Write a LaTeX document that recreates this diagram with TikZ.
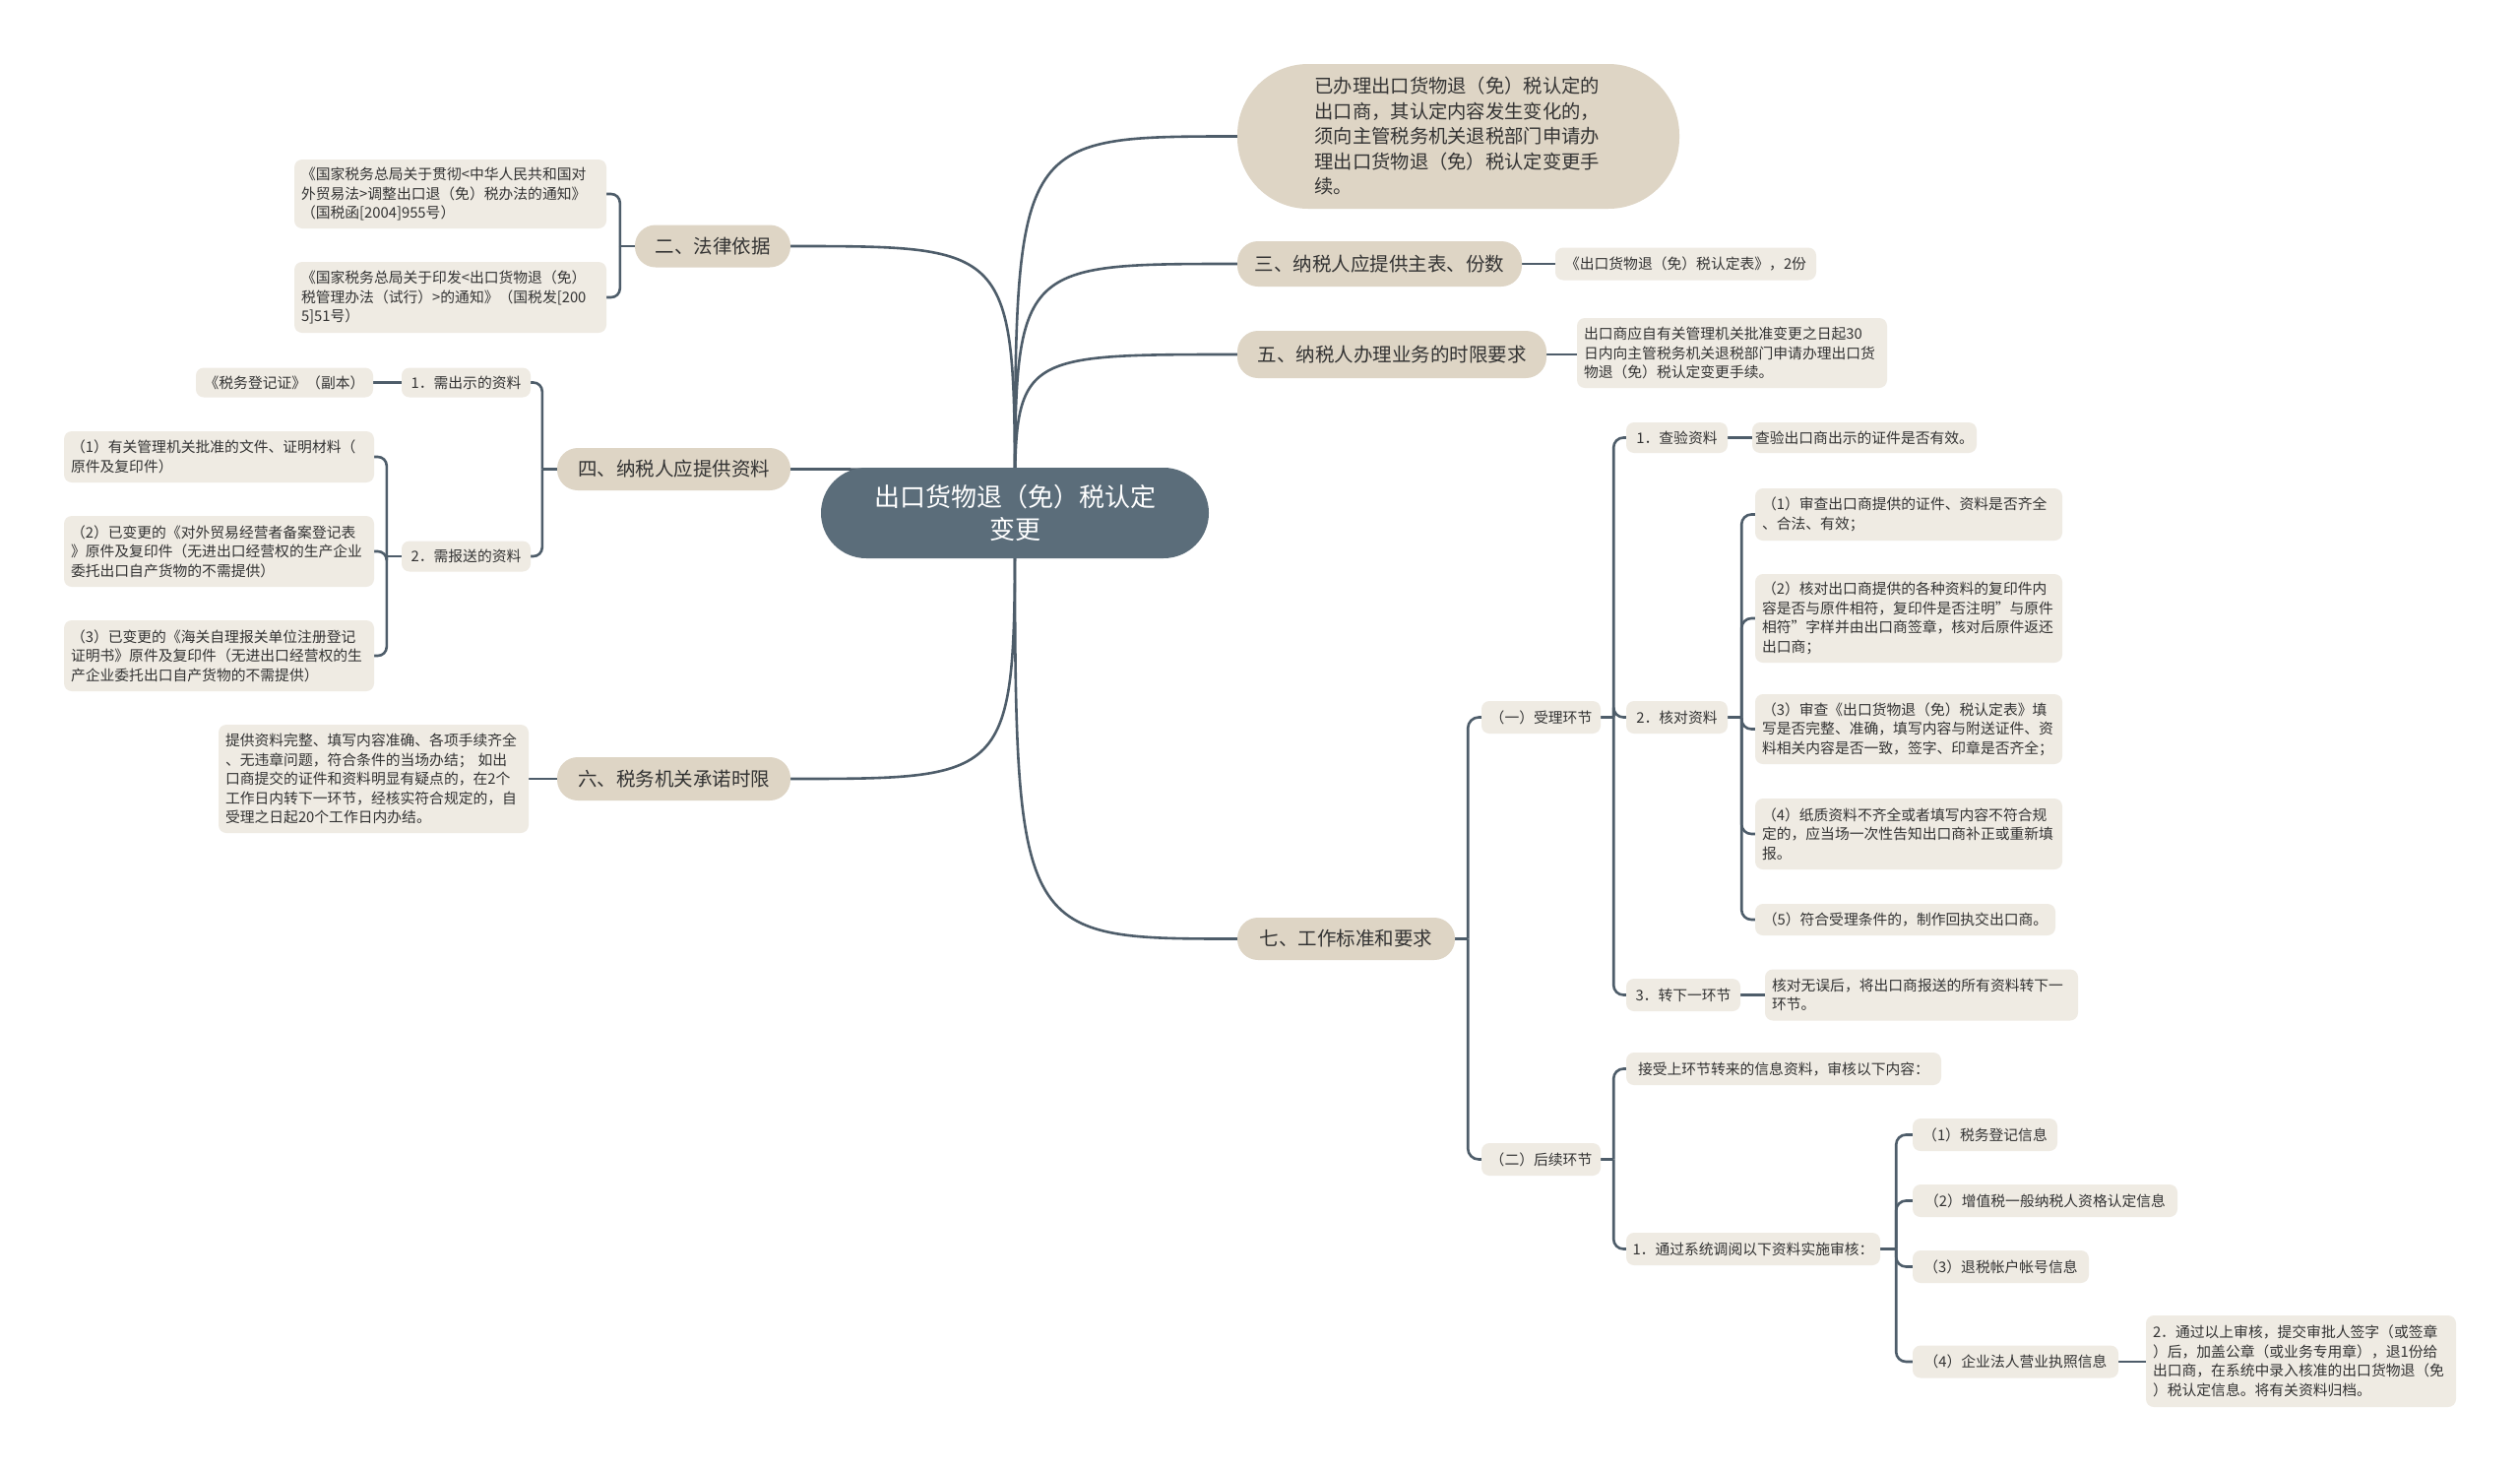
\documentclass[tikz,border=0pt]{standalone}
\usepackage{fontspec}
\setmainfont{Noto Sans CJK SC}
\usetikzlibrary{calc}
\definecolor{linec}{HTML}{4E5D6A}
\definecolor{leafc}{HTML}{EFEBE3}
\definecolor{brc}{HTML}{DED5C5}
\definecolor{cenc}{HTML}{5B6D7A}
\definecolor{txt}{HTML}{333333}
\newcommand\sdq{\char34\relax}
\pgfdeclarelayer{bg}
\pgfdeclarelayer{paper}
\pgfsetlayers{paper,bg,main}
\begin{document}
\begin{tikzpicture}[x=1pt,y=-1pt,
  leaf/.style={fill=leafc, rounded corners=8, text=txt, font=\fontsize{14.8}{19.5}\selectfont, inner xsep=7, inner ysep=0, align=left},
  leafs/.style={fill=leafc, rounded corners=8, text=txt, font=\fontsize{14.8}{19.5}\selectfont, inner sep=0},
  br/.style={fill=brc, rounded corners=21, text=txt, font=\fontsize{19.5}{24}\selectfont, inner sep=0},
  conn/.style={draw=linec, line width=2.6, rounded corners=10},
  mainc/.style={draw=linec, line width=2.6},
]
\begin{pgfonlayer}{paper}
\fill[white] (0,0) rectangle (2560,1494);
\end{pgfonlayer}
\useasboundingbox (0,0) rectangle (2560,1494);

% center
\node[fill=cenc, rounded corners=46, text=white, font=\fontsize{26}{33}\selectfont, minimum width=394, minimum height=92, inner sep=0, align=center] (c) at (1031,521) {出口货物退（免）税认定\\变更};

% main branches
\node[fill=brc, rounded corners=72, text=txt, font=\fontsize{19.3}{25.5}\selectfont, minimum width=449, minimum height=147, text width=292, align=left, inner sep=0] (q1) at (1481.5,138.5) {已办理出口货物退（免）税认定的\\出口商，其认定内容发生变化的，\\须向主管税务机关退税部门申请办\\理出口货物退（免）税认定变更手\\续。};
\node[br, minimum width=289, minimum height=46] (q3) at (1401.5,268) {三、纳税人应提供主表、份数};
\node[br, minimum width=314, minimum height=48] (q5) at (1414,360) {五、纳税人办理业务的时限要求};
\node[br, minimum width=221, minimum height=43] (q7) at (1367.5,953.5) {七、工作标准和要求};
\node[br, minimum width=158, minimum height=43] (q2) at (724,250) {二、法律依据};
\node[br, minimum width=237, minimum height=43] (q4) at (684.5,476.5) {四、纳税人应提供资料};
\node[br, minimum width=237, minimum height=44] (q6) at (684.5,791) {六、税务机关承诺时限};

% left leaves
\node[leaf, text width=303, minimum height=70] (l2a) at (457.5,197) {《国家税务总局关于贯彻<中华人民共和国对\\外贸易法>调整出口退（免）税办法的通知》\\（国税函[2004]955号）};
\node[leaf, text width=303, minimum height=72] (l2b) at (457.5,302) {《国家税务总局关于印发<出口货物退（免）\\税管理办法（试行）>的通知》（国税发[200\\5]51号）};
\node[leafs, minimum width=180, minimum height=30] (l41) at (289,388.5) {《税务登记证》（副本）};
\node[leafs, minimum width=131, minimum height=30] (n41) at (473.5,388.5) {1．需出示的资料};
\node[leafs, minimum width=131, minimum height=31] (n42) at (473.5,565) {2．需报送的资料};
\node[leaf, text width=301, minimum height=52] (l42a) at (222.5,464) {（1）有关管理机关批准的文件、证明材料（\\原件及复印件）};
\node[leaf, text width=301, minimum height=72] (l42b) at (222.5,560) {（2）已变更的《对外贸易经营者备案登记表\\》原件及复印件（无进出口经营权的生产企业\\委托出口自产货物的不需提供）};
\node[leaf, text width=301, minimum height=72] (l42c) at (222.5,666) {（3）已变更的《海关自理报关单位注册登记\\证明书》原件及复印件（无进出口经营权的生\\产企业委托出口自产货物的不需提供）};
\node[leaf, text width=301, minimum height=110] (l6) at (379.5,791) {提供资料完整、填写内容准确、各项手续齐全\\、无违章问题，符合条件的当场办结； 如出\\口商提交的证件和资料明显有疑点的，在2个\\工作日内转下一环节，经核实符合规定的，自\\受理之日起20个工作日内办结。};

% right leaves
\node[leafs, minimum width=265, minimum height=33] (l3) at (1712.5,268) {《出口货物退（免）税认定表》，2份};
\node[leaf, text width=301, minimum height=71] (l5) at (1759.5,358.5) {出口商应自有关管理机关批准变更之日起30\\日内向主管税务机关退税部门申请办理出口货\\物退（免）税认定变更手续。};
\node[leafs, minimum width=121, minimum height=33] (s1) at (1565.5,728.5) {（一）受理环节};
\node[leafs, minimum width=121, minimum height=33] (s2) at (1565.5,1177.5) {（二）后续环节};
\node[leafs, minimum width=103, minimum height=31] (t1) at (1703.5,444.5) {1．查验资料};
\node[leafs, minimum width=228, minimum height=31] (lt1) at (1894,444.5) {查验出口商出示的证件是否有效。};
\node[leafs, minimum width=103, minimum height=33] (t2) at (1703.5,728.5) {2．核对资料};
\node[leafs, minimum width=116, minimum height=33] (t3) at (1710,1010.5) {3．转下一环节};
\node[leaf, text width=304, minimum height=52] (lt3) at (1952,1010.5) {核对无误后，将出口商报送的所有资料转下一\\环节。};
\node[leaf, text width=298, minimum height=53] (u1) at (1939,522.5) {（1）审查出口商提供的证件、资料是否齐全\\、合法、有效；};
\node[leaf, text width=298, minimum height=90] (u2) at (1939,628) {（2）核对出口商提供的各种资料的复印件内\\容是否与原件相符，复印件是否注明\sdq 与原件\\相符\sdq 字样并由出口商签章，核对后原件返还\\出口商；};
\node[leaf, text width=298, minimum height=71] (u3) at (1939,740.5) {（3）审查《出口货物退（免）税认定表》填\\写是否完整、准确，填写内容与附送证件、资\\料相关内容是否一致，签字、印章是否齐全；};
\node[leaf, text width=298, minimum height=72] (u4) at (1939,847) {（4）纸质资料不齐全或者填写内容不符合规\\定的，应当场一次性告知出口商补正或重新填\\报。};
\node[leafs, minimum width=305, minimum height=32] (u5) at (1935.5,934) {（5）符合受理条件的，制作回执交出口商。};
\node[leafs, minimum width=320, minimum height=33] (v0) at (1812,1085.5) {接受上环节转来的信息资料，审核以下内容：};
\node[leafs, minimum width=258, minimum height=33] (v1) at (1781,1268.5) {1．通过系统调阅以下资料实施审核：};
\node[leafs, minimum width=147, minimum height=33] (w1) at (2016.5,1152.5) {（1）税务登记信息};
\node[leafs, minimum width=269, minimum height=33] (w2) at (2077.5,1219.5) {（2）增值税一般纳税人资格认定信息};
\node[leafs, minimum width=179, minimum height=33] (w3) at (2032.5,1286.5) {（3）退税帐户帐号信息};
\node[leafs, minimum width=209, minimum height=33] (w4) at (2047.5,1383) {（4）企业法人营业执照信息};
\node[leaf, text width=301, minimum height=93] (lw4) at (2337.5,1382.5) {2．通过以上审核，提交审批人签字（或签章\\）后，加盖公章（或业务专用章），退1份给\\出口商，在系统中录入核准的出口货物退（免\\）税认定信息。将有关资料归档。};

% junction coordinates
\coordinate (j2) at ($(q2.west)+(-15,0)$);
\coordinate (j4) at ($(q4.west)+(-15,0)$);
\coordinate (j42) at ($(n42.west)+(-15,0)$);
\coordinate (j7) at ($(q7.east)+(13,0)$);
\coordinate (js1) at ($(s1.east)+(13,0)$);
\coordinate (jt2) at ($(t2.east)+(14,0)$);
\coordinate (js2) at ($(s2.east)+(13,0)$);
\coordinate (jv1) at ($(v1.east)+(16,0)$);

\begin{pgfonlayer}{bg}
% main curves
\foreach \n in {q1,q3,q5,q7} {
  \draw[mainc] (c.center) .. controls (c.center |- \n.west) .. (\n.west);
}
\foreach \n in {q2,q4,q6} {
  \draw[mainc] (c.center) .. controls (c.center |- \n.east) .. (\n.east);
}
% straight links
\draw[mainc] (q3.east) -- (q3.east -| l3.west);
\draw[mainc] (q5.east) -- (q5.east -| l5.west);
\draw[mainc] (q6.west) -- (q6.west -| l6.east);
\draw[mainc] (n41.west) -- (n41.west -| l41.east);
\draw[mainc] (t1.east) -- (t1.east -| lt1.west);
\draw[mainc] (t3.east) -- (t3.east -| lt3.west);
\draw[mainc] (w4.east) -- (w4.east -| lw4.west);
% brackets
\draw[mainc] (q2.west) -- (j2);
\foreach \n in {l2a,l2b} { \draw[conn, rounded corners=9] (j2) |- (\n.east); }
\draw[mainc] (q4.west) -- (j4);
\foreach \n in {n41,n42} { \draw[conn, rounded corners=9] (j4) |- (\n.east); }
\draw[mainc] (n42.west) -- (j42);
\foreach \n in {l42a,l42b,l42c} { \draw[conn, rounded corners=9] (j42) |- (\n.east); }
\draw[mainc] (q7.east) -- (j7);
\foreach \n in {s1,s2} { \draw[conn, rounded corners=11] (j7) |- (\n.west); }
\draw[mainc] (s1.east) -- (js1);
\foreach \n in {t1,t2,t3} { \draw[conn] (js1) |- (\n.west); }
\draw[mainc] (t2.east) -- (jt2);
\foreach \n in {u1,u2,u3,u4,u5} { \draw[conn] (jt2) |- (\n.west); }
\draw[mainc] (s2.east) -- (js2);
\foreach \n in {v0,v1} { \draw[conn] (js2) |- (\n.west); }
\draw[mainc] (v1.east) -- (jv1);
\foreach \n in {w1,w2,w3,w4} { \draw[conn] (jv1) |- (\n.west); }
\end{pgfonlayer}
\end{tikzpicture}
\end{document}
